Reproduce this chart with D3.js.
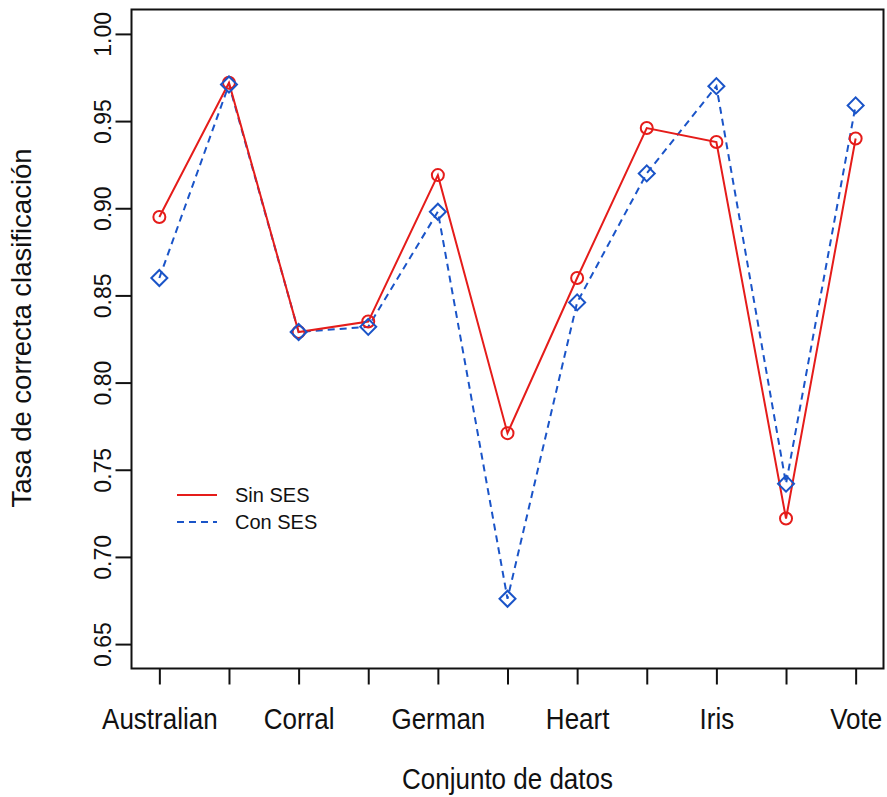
<!DOCTYPE html>
<html>
<head>
<meta charset="utf-8">
<script src="https://cdn.jsdelivr.net/npm/d3@7"></script>
<style>
  body { margin: 0; background: #fff; }
  text { font-family: "Liberation Sans", Arial, sans-serif; fill: #111; }
</style>
</head>
<body>
<div id="chart"></div>
<script>
// etiquetas del eje x (R omite las que se solapan)
var tickLabels = ["Australian", "", "Corral", "", "German", "", "Heart", "", "Iris", "", "Vote"];
var sinSES = [0.895, 0.972, 0.829, 0.835, 0.919, 0.771, 0.860, 0.946, 0.938, 0.722, 0.940];
var conSES = [0.860, 0.971, 0.829, 0.832, 0.898, 0.676, 0.846, 0.920, 0.970, 0.742, 0.959];
var yTicks = [0.65, 0.70, 0.75, 0.80, 0.85, 0.90, 0.95, 1.00];
var seriesNames = ["Sin SES", "Con SES"];

var W = 887, H = 797;
var margin = {top: 9.5, right: 3.5, bottom: 128.5, left: 131.5},
    width = W - margin.left - margin.right,
    height = H - margin.top - margin.bottom;

var redColor = "#e51c1a";
var blueColor = "#1a54c8";

var svg = d3.select("#chart").append("svg")
    .attr("width", W)
    .attr("height", H);

var g = svg.append("g")
    .attr("transform", "translate(" + margin.left + "," + margin.top + ")");

var x = d3.scaleLinear()
    .domain([0.6, tickLabels.length + 0.4])
    .range([0, width]);
var y = d3.scaleLinear()
    .domain([0.636, 1.014])
    .range([height, 0]);

var idx = tickLabels.map((d, i) => i + 1);

// eje x
var xAxis = d3.axisBottom(x)
    .tickValues(idx)
    .tickSize(16)
    .tickFormat(i => tickLabels[i - 1]);

var gx = g.append("g")
    .attr("transform", "translate(0," + height + ")")
    .call(xAxis);
gx.select(".domain").remove();
gx.selectAll("line").attr("stroke", "#111").attr("stroke-width", 2);
gx.selectAll("text")
    .style("font-size", "26px")
    .attr("y", 0)
    .attr("dy", null)
    .attr("transform", "translate(0,60) scale(1,1.15)");   // el escaneo estira el texto

// eje y
var yAxis = d3.axisLeft(y)
    .tickValues(yTicks)
    .tickSize(16)
    .tickFormat(d3.format(".2f"));

var gy = g.append("g").call(yAxis);
gy.select(".domain").remove();
gy.selectAll("line").attr("stroke", "#111").attr("stroke-width", 2);
gy.selectAll("text")
    .style("font-size", "23px")
    .attr("x", null)
    .attr("dy", null)
    .attr("text-anchor", "middle")
    .attr("transform", "translate(-21,0) rotate(-90)");

// caja
g.append("rect")
    .attr("width", width)
    .attr("height", height)
    .attr("fill", "none")
    .attr("stroke", "#111")
    .attr("stroke-width", 2);

// líneas
var line = d3.line()
    .x((d, i) => x(i + 1))
    .y(d => y(d));

g.append("path")
    .datum(conSES)
    .attr("d", line)
    .attr("fill", "none")
    .attr("stroke", blueColor)
    .attr("stroke-width", 2)
    .attr("stroke-dasharray", "7,5");

g.append("path")
    .datum(sinSES)
    .attr("d", line)
    .attr("fill", "none")
    .attr("stroke", redColor)
    .attr("stroke-width", 2);

g.selectAll(".pt-sin")
    .data(sinSES)
    .enter().append("circle")
    .attr("class", "pt-sin")
    .attr("cx", (d, i) => x(i + 1))
    .attr("cy", d => y(d))
    .attr("r", 6)
    .attr("fill", "none")
    .attr("stroke", redColor)
    .attr("stroke-width", 2);

var diamond = d3.symbol().type(d3.symbolSquare).size(128);
g.selectAll(".pt-con")
    .data(conSES)
    .enter().append("path")
    .attr("class", "pt-con")
    .attr("d", diamond)
    .attr("transform", (d, i) => "translate(" + x(i + 1) + "," + y(d) + ") rotate(45)")
    .attr("fill", "none")
    .attr("stroke", blueColor)
    .attr("stroke-width", 2);

// leyenda
var legend = svg.append("g").attr("transform", "translate(177,495)");
seriesNames.forEach((name, i) => {
    var row = legend.append("g").attr("transform", "translate(0," + (i * 27) + ")");
    row.append("line")
        .attr("x1", 0).attr("x2", 40)
        .attr("stroke", i === 0 ? redColor : blueColor)
        .attr("stroke-width", 2)
        .attr("stroke-dasharray", i === 0 ? null : "7,5");
    row.append("text")
        .attr("x", 58)
        .attr("dy", "0.35em")
        .style("font-size", "20px")
        .text(name);
});

// títulos
svg.append("text")
    .attr("transform", "translate(" + (margin.left + width / 2) + ",789) scale(1,1.15)")
    .attr("text-anchor", "middle")
    .style("font-size", "26px")
    .text("Conjunto de datos");

svg.append("text")
    .attr("transform", "translate(31,328) rotate(-90)")
    .attr("text-anchor", "middle")
    .style("font-size", "27.5px")
    .text("Tasa de correcta clasificación");
</script>
</body>
</html>
